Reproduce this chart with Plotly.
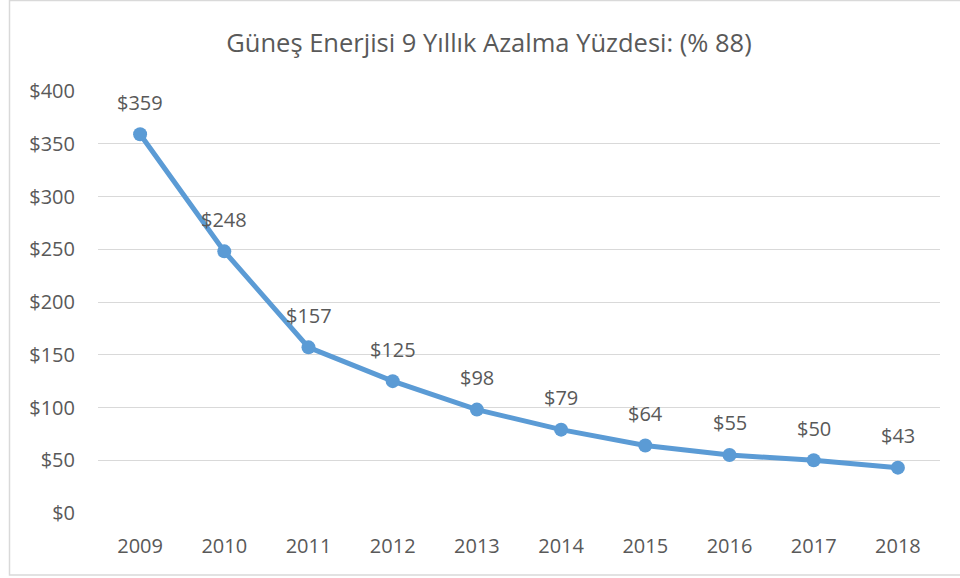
import plotly.graph_objects as go

years = [2009, 2010, 2011, 2012, 2013, 2014, 2015, 2016, 2017, 2018]
costs = [359, 248, 157, 125, 98, 79, 64, 55, 50, 43]
y_ticks = [0, 50, 100, 150, 200, 250, 300, 350, 400]
y_tick_labels = ["$" + str(v) for v in y_ticks]
title_text = "Güneş Enerjisi 9 Yıllık Azalma Yüzdesi: (% 88)"

FONT = "Open Sans"
GREY = "#595959"
LINE = "#5B9BD5"

fig = go.Figure()
fig.add_trace(go.Scatter(
    x=years, y=costs, mode="lines+markers",
    line=dict(color=LINE, width=5),
    marker=dict(color=LINE, size=14),
    hoverinfo="skip",
))

for yr, v in zip(years, costs):
    fig.add_annotation(x=yr, y=v, text="$" + str(v), showarrow=False,
                       yshift=32, font=dict(family=FONT, size=20, color=GREY))

W, H = 960, 578
ml, mr, mt, mb = 98, 20, 91, 65
pw, ph = W - ml - mr, H - mt - mb

def px_x(p):
    return (p - ml) / pw

def px_y(p):
    return (H - mb - p) / ph

# outer chart frame
fig.add_shape(type="rect", xref="paper", yref="paper",
              x0=px_x(9.5), x1=px_x(975), y0=px_y(575), y1=px_y(0.5),
              line=dict(color="#D9D9D9", width=1.5), fillcolor="rgba(0,0,0,0)")

fig.update_layout(
    width=W, height=H,
    margin=dict(l=ml, r=mr, t=mt, b=mb),
    paper_bgcolor="white", plot_bgcolor="white",
    showlegend=False,
    title=dict(text=title_text, x=489 / W, xanchor="center",
               y=1 - 43 / H, yanchor="middle",
               font=dict(family=FONT, size=25.5, color=GREY)),
    xaxis=dict(range=[2008.5, 2018.5], tickvals=years,
               ticktext=[str(y) for y in years],
               showgrid=False, showline=False, zeroline=False,
               ticks="", tickfont=dict(family=FONT, size=20, color=GREY),
               ticklabelstandoff=19),
    yaxis=dict(range=[0, 400], tickvals=y_ticks, ticktext=y_tick_labels,
               showgrid=True, gridcolor="#D9D9D9", gridwidth=1.3,
               zeroline=False, showline=False, ticks="",
               tickfont=dict(family=FONT, size=20, color=GREY),
               ticklabelstandoff=22),
)

fig.write_html("out.html")
